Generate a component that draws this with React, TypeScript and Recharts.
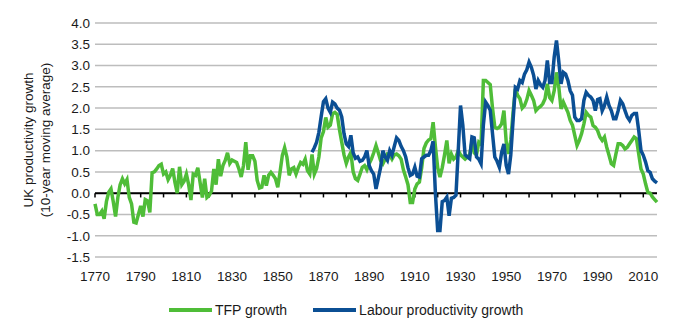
import { LineChart, Line, XAxis, YAxis, CartesianGrid, ReferenceLine, Label } from 'recharts'

// TFP series runs 1770–2016, labour productivity 1865–2016 (10-year moving averages, %)
const tfpStartYear = 1770
const tfpGrowth = [
  -0.25, -0.5, -0.5, -0.42, -0.6, -0.2, 0.02, 0.1, -0.2, -0.55,
  -0.1, 0.2, 0.34, 0.22, 0.32, -0.1, -0.25, -0.68, -0.7, -0.5,
  -0.3, -0.55, -0.15, -0.18, -0.45, 0.48, 0.5, 0.57, 0.65, 0.68,
  0.45, 0.5, 0.32, 0.42, 0.58, 0.25, 0.0, 0.62, 0.2, 0.28,
  0.45, 0.2, -0.16, 0.45, 0.42, 0.6, 0.25, -0.1, 0.34, -0.1,
  -0.05, 0.05, 0.57, 0.2, 0.8, 0.4, 0.65, 0.77, 0.95, 0.7,
  0.78, 0.75, 0.72, 0.57, 0.38, 0.65, 1.2, 0.55, 0.88, 0.88,
  0.75, 0.3, 0.12, 0.14, 0.42, 0.18, 0.42, 0.49, 0.42, 0.34,
  0.14, 0.5, 0.89, 1.07, 0.85, 0.42, 0.57, 0.6, 0.45, 0.6,
  0.72, 0.68, 0.8, 0.53, 0.45, 0.91, 0.45, 0.58, 0.85, 1.3,
  1.45, 1.78, 1.55, 1.6, 1.87, 1.9, 1.85, 1.5, 1.2, 0.9,
  0.7, 0.85, 0.96, 0.5, 0.34, 0.3, 0.45, 0.61, 0.65, 0.55,
  0.69, 0.8, 0.95, 1.12, 0.95, 0.77, 0.69, 0.8, 0.92, 0.9,
  0.8, 0.9, 0.92, 0.88, 0.8, 0.55, 0.38, 0.2, -0.22, -0.22,
  0.1, 0.22, 0.26, 0.6, 1.05, 1.18, 1.25, 1.28, 1.67, 1.1,
  0.6, 0.38, 0.6, 0.9, 1.24, 0.7, 0.92, 0.8, 0.85, 1.0,
  0.9, 0.85, 0.8, 0.85, 0.9, 1.2, 0.95, 0.9, 1.2, 1.15,
  2.65, 2.65, 2.6, 2.55, 2.0, 1.55, 1.52, 1.55, 1.63, 1.94,
  1.2, 0.92, 1.25, 1.9, 2.45, 2.3, 2.22, 2.0, 2.06, 2.2,
  2.41, 2.3, 2.18, 1.94, 2.0, 2.04, 2.1, 2.22, 2.57, 2.25,
  2.18, 2.41, 2.84, 2.5, 1.98, 2.14, 2.02, 1.9, 1.71, 1.6,
  1.36, 1.12, 1.24, 1.4, 1.63, 1.9, 1.83, 1.79, 1.59, 1.55,
  1.47, 1.32, 1.24, 1.32, 1.08, 0.89, 0.69, 0.65, 0.92, 1.16,
  1.16, 1.12, 1.04, 1.08, 1.16, 1.24, 1.32, 1.28, 0.92, 0.57,
  0.45, 0.22, 0.02, 0.0, -0.09, -0.15, -0.21,
]

const lpStartYear = 1865
const labourGrowth = [
  0.96, 1.07, 1.2, 1.43, 1.8,
  2.15, 2.22, 2.0, 1.9, 2.14, 2.1, 2.0, 1.95, 1.79, 1.4,
  1.16, 1.1, 1.36, 0.95, 0.82, 0.85, 0.75, 0.77, 0.85, 1.0,
  0.65, 0.53, 0.45, 0.1, 0.35, 0.6, 1.0, 0.85, 0.77, 1.0,
  0.89, 1.1, 1.3, 1.24, 1.1, 1.0, 0.85, 0.6, 0.42, 0.45,
  0.61, 0.4, 0.38, 0.81, 0.85, 0.89, 0.89, 1.0, 1.22, 0.0,
  -0.88, -0.88, -0.2, -0.17, -0.09, -0.53, -0.12, -0.1, -0.05, 1.0,
  2.06, 1.6, 0.9, 0.85, 0.81, 1.32, 1.3, 0.85, 0.8, 0.69,
  1.6, 2.14, 2.06, 1.95, 1.4, 0.85, 0.75, 0.61, 0.96, 1.16,
  0.65, 0.45, 0.9, 1.71, 2.49, 2.45, 2.65, 2.6, 2.8, 2.9,
  3.08, 2.96, 2.77, 2.45, 2.65, 2.55, 2.49, 2.65, 3.12, 2.6,
  2.6, 3.2, 3.59, 3.1, 2.57, 2.84, 2.8, 2.65, 2.41, 2.3,
  1.79, 1.71, 1.71, 1.75, 2.18, 2.37, 2.3, 2.26, 2.18, 1.94,
  2.2, 2.22, 1.94, 2.06, 2.26, 2.06, 1.94, 1.75, 1.75, 1.94,
  2.18, 2.1, 1.94, 1.79, 1.71, 1.83, 1.87, 1.87, 1.47, 1.0,
  0.89, 0.73, 0.53, 0.49, 0.34, 0.28, 0.24,
]

const yTicks = [-1.5, -1.0, -0.5, 0, 0.5, 1.0, 1.5, 2.0, 2.5, 3.0, 3.5, 4.0]
const labelYears = [1770, 1790, 1810, 1830, 1850, 1870, 1890, 1910, 1930, 1950, 1970, 1990, 2010]
const decadeYears = [
  1770, 1780, 1790, 1800, 1810, 1820, 1830, 1840, 1850, 1860, 1870, 1880, 1890,
  1900, 1910, 1920, 1930, 1940, 1950, 1960, 1970, 1980, 1990, 2000, 2010,
]

const GREEN = '#4fbd38'
const BLUE = '#0b4f94'
const TEXT = '#1a1a1a'
const FONT = '"Liberation Sans", Arial, sans-serif'

const data = tfpGrowth.map((tfp, i) => {
  const year = tfpStartYear + i
  const j = year - lpStartYear
  return { year, tfp, labour: j >= 0 ? labourGrowth[j] : null }
})

function AxisTitle() {
  return (
    <text transform="translate(37, 140) rotate(-90)" textAnchor="middle" fontSize={13.5} fill={TEXT}>
      <tspan x={0} dy={-4}>UK productivity growth</tspan>
      <tspan x={0} dy={16.5}>(10-year moving average)</tspan>
    </text>
  )
}

function LegendItem({ color, label }: { color: string; label: string }) {
  return (
    <div style={{ display: 'flex', alignItems: 'center' }}>
      <span style={{ display: 'inline-block', width: 43, height: 4, background: color, marginRight: 3 }} />
      <span>{label}</span>
    </div>
  )
}

export default function App() {
  return (
    <div style={{ position: 'absolute', left: 0, top: 0, width: 680, height: 333, fontFamily: FONT, background: '#fff' }}>
      <LineChart width={680} height={333} data={data} margin={{ top: 23, right: 23, left: 0, bottom: 0 }}>
        <CartesianGrid vertical={false} stroke="#bdbdbd" strokeWidth={1.5} />
        <XAxis
          dataKey="year"
          type="number"
          domain={[1770, 2016]}
          ticks={labelYears}
          interval={0}
          height={76}
          axisLine={false}
          tickLine={false}
          tickSize={0}
          tickMargin={14}
          tick={{ fontSize: 13.5, fill: TEXT }}
        />
        <YAxis
          domain={[-1.5, 4]}
          ticks={yTicks}
          interval={0}
          width={95}
          axisLine={false}
          tickLine={false}
          tickSize={0}
          tickMargin={5}
          tickFormatter={(v: number) => v.toFixed(1)}
          tick={{ fontSize: 13.5, fill: TEXT }}
        >
          <Label content={() => <AxisTitle />} />
        </YAxis>
        <ReferenceLine y={0} stroke="#000" strokeWidth={2} />
        {decadeYears.map((yr) => (
          <ReferenceLine
            key={yr}
            segment={[{ x: yr, y: 0 }, { x: yr, y: -0.1 }]}
            stroke="#000"
            strokeWidth={1.5}
          />
        ))}
        <Line type="linear" dataKey="tfp" stroke={GREEN} strokeWidth={3.5} dot={false} isAnimationActive={false} />
        <Line type="linear" dataKey="labour" stroke={BLUE} strokeWidth={3.5} dot={false} isAnimationActive={false} />
      </LineChart>
      <div
        style={{
          position: 'absolute',
          left: 169,
          top: 300,
          height: 20,
          display: 'flex',
          alignItems: 'center',
          gap: 26,
          fontSize: 14,
          color: TEXT,
        }}
      >
        <LegendItem color={GREEN} label="TFP growth" />
        <LegendItem color={BLUE} label="Labour productivity growth" />
      </div>
    </div>
  )
}
